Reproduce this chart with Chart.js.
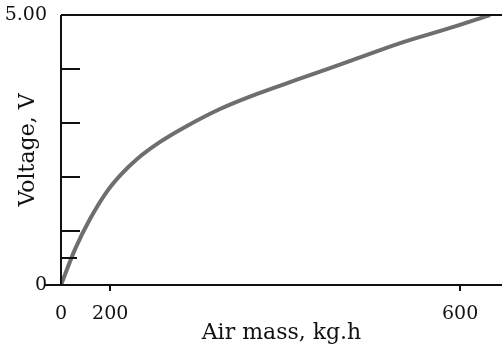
<!DOCTYPE html>
<html>
<head>
<meta charset="utf-8">
<script src="https://cdn.jsdelivr.net/npm/chart.js@4.4.0/dist/chart.umd.min.js"></script>
<style>
  html, body { margin: 0; padding: 0; background: #fff; }
  #wrap { width: 502px; height: 344px; }
</style>
</head>
<body>
<div id="wrap"><canvas id="voltageChart"></canvas></div>
<script>
// Curve (air mass in axis units, voltage in V)
const airMass = [0, 21, 44, 69, 89, 114, 149, 190, 239, 284, 359, 435, 510, 585, 645];
const voltage = [0, 0.66, 1.23, 1.73, 2.03, 2.33, 2.65, 2.95, 3.26, 3.49, 3.82, 4.15, 4.48, 4.76, 5.0];

// Tick labels (the "200" mark sits close to 0 in the original drawing)
const xTickValues = [0, 74, 600];
const xTickLabels = ['0', '200', '600'];
const yTickValues = [0, 5];
const yTickLabels = ['0', '5.00'];
// Unlabelled inward tick marks on the voltage axis
const yMarkValues = [0.5, 1, 2, 3, 4];

// Draws the axis lines, frame top and the tick marks
const axisLines = {
  id: 'axisLines',
  afterDraw(chart) {
    const { ctx, chartArea: a, scales } = chart;
    ctx.save();
    ctx.strokeStyle = '#111';
    ctx.lineWidth = 2;
    ctx.beginPath();
    ctx.moveTo(a.left, a.top);
    ctx.lineTo(a.left, a.bottom);
    ctx.moveTo(a.left, a.top);
    ctx.lineTo(a.right, a.top);
    ctx.moveTo(a.left - 16, a.bottom);
    ctx.lineTo(a.right, a.bottom);
    yMarkValues.forEach(v => {
      const y = Math.round(scales.y.getPixelForValue(v));
      ctx.moveTo(a.left, y);
      ctx.lineTo(a.left + (v < 1 ? 16 : 19), y);
    });
    xTickValues.forEach(v => {
      if (v === 0) return;
      const x = Math.round(scales.x.getPixelForValue(v));
      ctx.moveTo(x, a.bottom);
      ctx.lineTo(x, a.bottom + 6);
    });
    ctx.stroke();
    ctx.restore();
  }
};

function createVoltageChart() {
  const ctx = document.getElementById('voltageChart').getContext('2d');
  new Chart(ctx, {
    type: 'line',
    data: {
      datasets: [{
        label: 'Voltage',
        data: airMass.map((x, i) => ({ x: x, y: voltage[i] })),
        borderColor: '#6e6e6e',
        borderWidth: 4,
        pointRadius: 0,
        fill: false,
        cubicInterpolationMode: 'monotone'
      }]
    },
    options: {
      responsive: true,
      maintainAspectRatio: false,
      animation: false,
      devicePixelRatio: 1,
      layout: { padding: { top: 15, right: 0, left: 0, bottom: 0 } },
      plugins: {
        legend: { display: false },
        tooltip: { enabled: false }
      },
      scales: {
        x: {
          type: 'linear',
          min: 0,
          max: 663,
          afterBuildTicks: scale => { scale.ticks = xTickValues.map(v => ({ value: v })); },
          afterFit: scale => {
            scale.height = 59;
            scale.paddingLeft = 0;
            scale.paddingRight = 0;
          },
          grid: { display: false, drawTicks: false },
          border: { display: false },
          ticks: {
            autoSkip: false,
            maxRotation: 0,
            padding: 18,
            color: '#111',
            font: { family: 'DejaVu Serif', size: 19 },
            callback: (value, index) => xTickLabels[index]
          },
          title: {
            display: true,
            text: 'Air mass, kg.h',
            color: '#111',
            padding: { top: 0, bottom: 0 },
            font: { family: 'DejaVu Serif', size: 22, lineHeight: 1 }
          }
        },
        y: {
          type: 'linear',
          min: 0,
          max: 5,
          afterBuildTicks: scale => { scale.ticks = yTickValues.map(v => ({ value: v })); },
          afterFit: scale => {
            scale.width = 61;
            scale.paddingTop = 0;
            scale.paddingBottom = 0;
          },
          grid: { display: false, drawTicks: false },
          border: { display: false },
          ticks: {
            autoSkip: false,
            padding: 14,
            color: '#111',
            font: { family: 'DejaVu Serif', size: 19 },
            callback: (value, index) => yTickLabels[index]
          },
          title: {
            display: true,
            text: 'Voltage, V',
            color: '#111',
            padding: { top: 17, bottom: 0 },
            font: { family: 'DejaVu Serif', size: 22, lineHeight: 1 }
          }
        }
      }
    },
    plugins: [axisLines]
  });
}

createVoltageChart();
</script>
</body>
</html>
